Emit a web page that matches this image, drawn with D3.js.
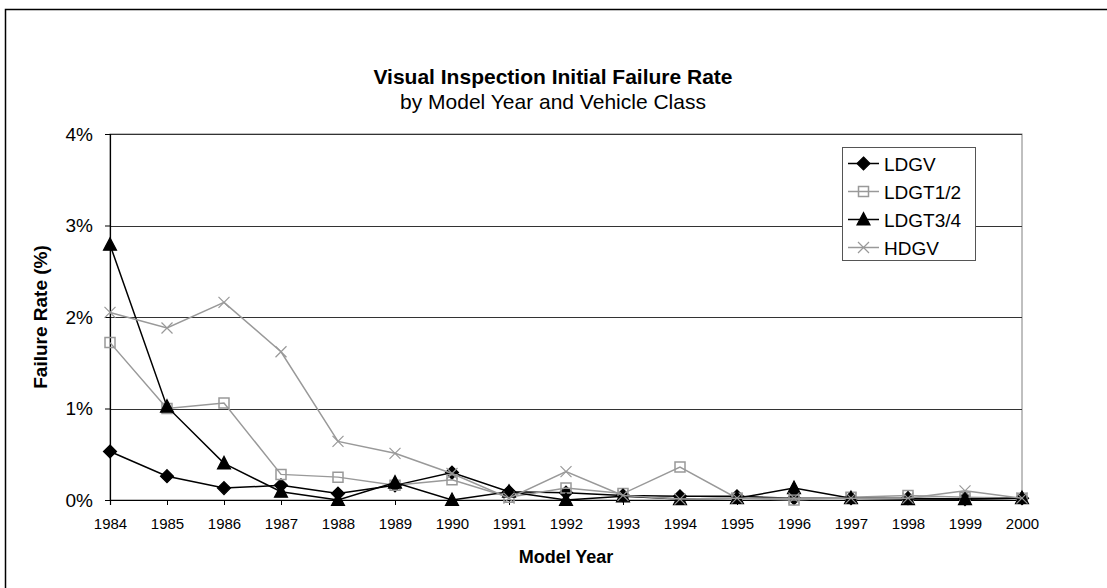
<!DOCTYPE html>
<html>
<head>
<meta charset="utf-8">
<script src="https://cdn.jsdelivr.net/npm/d3@7"></script>
<style>
  body { margin: 0; background: #fff; }
  text { font-family: Arial, "Liberation Sans", sans-serif; }
</style>
</head>
<body>
<div id="chart"></div>
<script>
// model years along the x axis
var years = [1984, 1985, 1986, 1987, 1988, 1989, 1990, 1991, 1992, 1993, 1994, 1995, 1996, 1997, 1998, 1999, 2000];

// failure rates in percent
var ldgv   = [0.53, 0.26, 0.13, 0.16, 0.07, 0.16, 0.30, 0.09, 0.08, 0.05, 0.04, 0.04, 0.02, 0.02, 0.02, 0.01, 0.02];
var ldgt12 = [1.72, 1.00, 1.06, 0.28, 0.25, 0.16, 0.22, 0.03, 0.13, 0.07, 0.36, 0.02, 0.00, 0.03, 0.05, 0.03, 0.02];
var ldgt34 = [2.79, 1.02, 0.40, 0.09, 0.00, 0.19, 0.00, 0.09, 0.00, 0.04, 0.01, 0.02, 0.13, 0.02, 0.01, 0.01, 0.02];
var hdgv   = [2.05, 1.88, 2.16, 1.62, 0.64, 0.51, 0.29, 0.02, 0.31, 0.05, 0.01, 0.02, 0.02, 0.02, 0.02, 0.10, 0.02];

var seriesNames = ["LDGV", "LDGT1/2", "LDGT3/4", "HDGV"];
var yTicks = [0, 1, 2, 3, 4];

var series = [
    { name: seriesNames[0], values: ldgv,   color: "#000", marker: "diamond" },
    { name: seriesNames[1], values: ldgt12, color: "#999", marker: "square" },
    { name: seriesNames[2], values: ldgt34, color: "#000", marker: "triangle" },
    { name: seriesNames[3], values: hdgv,   color: "#999", marker: "cross" }
];

var width = 1107, height = 588;
var plot = { left: 110, right: 1022, top: 134, bottom: 500 };

var svg = d3.select("#chart").append("svg").attr("width", width).attr("height", height);

// chart frame (runs past the window on right and bottom)
svg.append("rect").attr("x", 5.5).attr("y", 9.5).attr("width", 1120).attr("height", 600)
    .attr("fill", "#fff").attr("stroke", "#000").attr("stroke-width", 1.5);

var x = d3.scalePoint().domain(years).range([plot.left, plot.right]);
var y = d3.scaleLinear().domain([0, 4]).range([plot.bottom, plot.top]);

// plot area border
svg.append("rect").attr("x", plot.left).attr("y", plot.top)
    .attr("width", plot.right - plot.left).attr("height", plot.bottom - plot.top)
    .attr("fill", "none").attr("stroke", "#808080").attr("stroke-width", 1);

// gridlines
svg.append("g").selectAll("line").data(yTicks.slice(1)).enter().append("line")
    .attr("x1", plot.left).attr("x2", plot.right)
    .attr("y1", function(d) { return Math.round(y(d)) + 0.5; })
    .attr("y2", function(d) { return Math.round(y(d)) + 0.5; })
    .attr("stroke", "#333").attr("stroke-width", 1);

// axes
var yAxis = d3.axisLeft(y).tickValues(yTicks).tickSize(5).tickPadding(12)
    .tickFormat(function(d) { return d + "%"; });
svg.append("g").attr("transform", "translate(" + plot.left + ",0)").call(yAxis)
    .call(function(g) {
        g.select(".domain").attr("stroke", "#000").attr("stroke-width", 1.2);
        g.selectAll(".tick line").attr("stroke", "#000");
        g.selectAll("text").attr("font-size", 19).attr("fill", "#000").attr("font-family", "Arial, 'Liberation Sans', sans-serif");
    });

var xAxis = d3.axisBottom(x).tickSize(5).tickPadding(13);
svg.append("g").attr("transform", "translate(0," + plot.bottom + ")").call(xAxis)
    .call(function(g) {
        g.select(".domain").attr("stroke", "#000").attr("stroke-width", 1.2);
        g.selectAll(".tick line").attr("stroke", "#000");
        g.selectAll("text").attr("font-size", 15).attr("fill", "#000").attr("font-family", "Arial, 'Liberation Sans', sans-serif");
    });

// titles
svg.append("text").attr("x", 553).attr("y", 84).attr("text-anchor", "middle")
    .attr("font-size", 21).attr("font-weight", "bold").text("Visual Inspection Initial Failure Rate");
svg.append("text").attr("x", 553).attr("y", 109).attr("text-anchor", "middle")
    .attr("font-size", 21).text("by Model Year and Vehicle Class");
svg.append("text").attr("x", 566).attr("y", 563).attr("text-anchor", "middle")
    .attr("font-size", 18).attr("font-weight", "bold").text("Model Year");
svg.append("text").attr("transform", "translate(47,317) rotate(-90)").attr("text-anchor", "middle")
    .attr("font-size", 19).attr("font-weight", "bold").text("Failure Rate (%)");

function markerPath(type) {
    if (type == "diamond") return "M0,-6.5L6.5,0L0,6.5L-6.5,0Z";
    if (type == "square") return "M-5,-5H5V5H-5Z";
    if (type == "triangle") return "M0,-7L6.5,5.5H-6.5Z";
    return "M-5.5,-5.5L5.5,5.5M5.5,-5.5L-5.5,5.5";
}

function drawMarker(sel, s) {
    sel.attr("d", markerPath(s.marker))
        .attr("fill", s.marker == "diamond" || s.marker == "triangle" ? s.color : "none")
        .attr("stroke", s.color)
        .attr("stroke-width", s.marker == "square" ? 1.5 : 1.2);
}

var line = d3.line()
    .x(function(d, i) { return x(years[i]); })
    .y(function(d) { return y(d); });

series.forEach(function(s) {
    var g = svg.append("g");
    g.append("path").datum(s.values).attr("d", line)
        .attr("fill", "none").attr("stroke", s.color).attr("stroke-width", 1.5);
    g.selectAll("path.mk").data(s.values).enter().append("path").attr("class", "mk")
        .attr("transform", function(d, i) { return "translate(" + x(years[i]) + "," + y(d) + ")"; })
        .call(drawMarker, s);
});

// legend
var legend = svg.append("g").attr("transform", "translate(842,147)");
legend.append("rect").attr("x", 0.5).attr("y", 0.5).attr("width", 133).attr("height", 113)
    .attr("fill", "#fff").attr("stroke", "#555").attr("stroke-width", 1);
var items = legend.selectAll("g.item").data(series).enter().append("g").attr("class", "item")
    .attr("transform", function(d, i) { return "translate(0," + (16.5 + i * 28) + ")"; });
items.append("line").attr("x1", 6).attr("x2", 37)
    .attr("stroke", function(d) { return d.color; }).attr("stroke-width", 1.5);
items.append("path").attr("transform", "translate(21.5,0)")
    .each(function(d) { d3.select(this).call(drawMarker, d); });
items.append("text").attr("x", 42).attr("y", 7).attr("font-size", 19)
    .text(function(d) { return d.name; });
</script>
</body>
</html>
